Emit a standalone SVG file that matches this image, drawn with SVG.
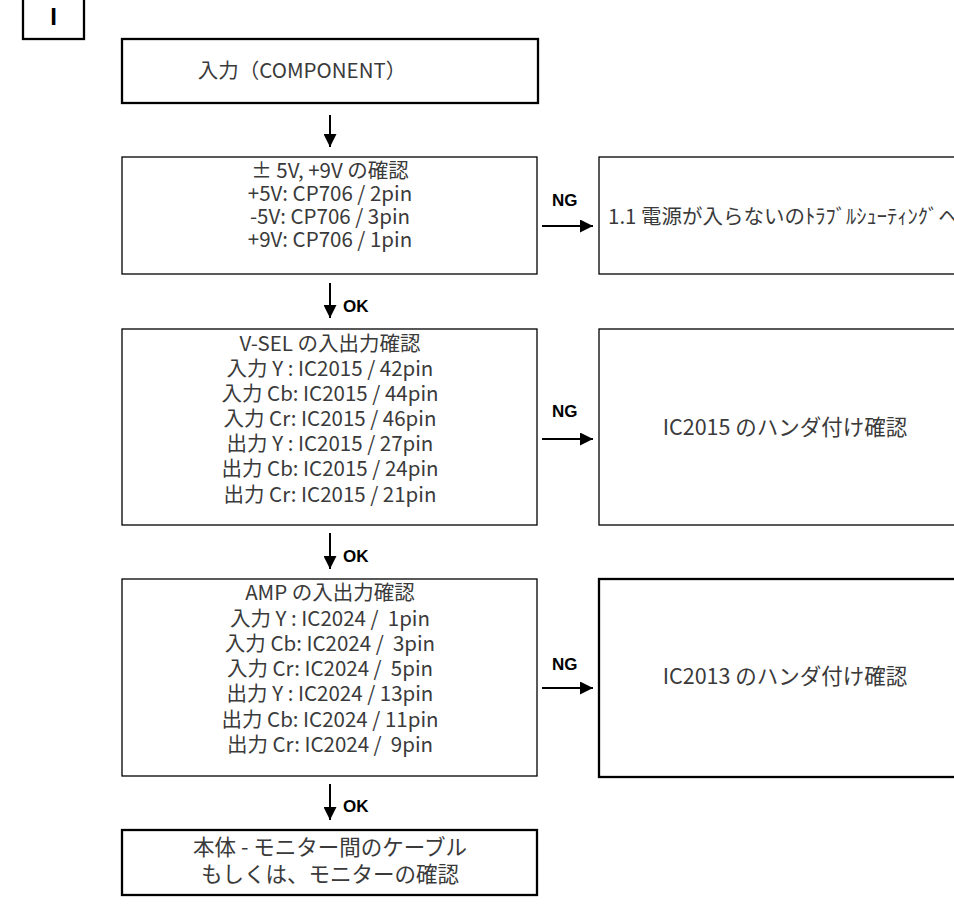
<svg xmlns="http://www.w3.org/2000/svg" width="954" height="906" viewBox="0 0 954 906">
<defs>
<style>
.thin{fill:#fff;stroke:#000;stroke-width:1.3}
.thick{fill:#fff;stroke:#000;stroke-width:2.3}
.t{font-family:"Noto Sans CJK JP","Noto Sans",sans-serif;font-size:20.5px;font-weight:400;fill:#3a3a3a;text-anchor:middle;white-space:pre}
.b{font-size:21.5px}
.lbl{font-family:"Liberation Sans",Arial,sans-serif;font-size:17px;font-weight:bold;fill:#000}
.ln{stroke:#000;stroke-width:2;fill:none}
</style>
<marker id="ah" viewBox="0 0 10 10" refX="10" refY="5" markerWidth="15" markerHeight="13" markerUnits="userSpaceOnUse" orient="auto">
<path d="M0,0 L10,5 L0,10 Z" fill="#000"/>
</marker>
</defs>
<rect width="954" height="906" fill="#fff"/>
<g id="tab">
<rect x="23" y="-3" width="61" height="42" class="thick"/>
<text x="53.5" y="25" font-family="Liberation Sans,Arial,sans-serif" font-size="24" font-weight="bold" text-anchor="middle">I</text>
</g>
<g id="n1">
<rect x="122" y="39" width="416" height="64" class="thick"/>
<text class="t" x="302" y="78">入力（COMPONENT）</text>
</g>
<g id="n2">
<rect x="122" y="157" width="415" height="117" class="thin"/>
<text class="t"><tspan x="330" y="178">± 5V, +9V の確認</tspan><tspan x="330" y="201">+5V: CP706 / 2pin</tspan><tspan x="330" y="224">-5V: CP706 / 3pin</tspan><tspan x="330" y="247">+9V: CP706 / 1pin</tspan></text>
</g>
<g id="r1">
<rect x="599" y="157" width="380" height="117" class="thin"/>
<text class="t" x="608" y="224" style="text-anchor:start">1.1 電源が入らないのﾄﾗﾌﾞﾙｼｭｰﾃｨﾝｸﾞへ</text>
</g>
<g id="n3">
<rect x="122" y="329" width="415" height="196" class="thin"/>
<text class="t"><tspan x="330" y="351">V-SEL の入出力確認</tspan><tspan x="330" y="376">入力 Y : IC2015 / 42pin</tspan><tspan x="330" y="401">入力 Cb: IC2015 / 44pin</tspan><tspan x="330" y="426">入力 Cr: IC2015 / 46pin</tspan><tspan x="330" y="451">出力 Y : IC2015 / 27pin</tspan><tspan x="330" y="476">出力 Cb: IC2015 / 24pin</tspan><tspan x="330" y="502">出力 Cr: IC2015 / 21pin</tspan></text>
</g>
<g id="r2">
<rect x="599" y="329" width="380" height="196" class="thin"/>
<text class="t b" x="785" y="435">IC2015 のハンダ付け確認</text>
</g>
<g id="n4">
<rect x="122" y="579" width="415" height="197" class="thin"/>
<text class="t"><tspan x="330" y="600">AMP の入出力確認</tspan><tspan x="330" y="626">入力 Y : IC2024 /  1pin</tspan><tspan x="330" y="651">入力 Cb: IC2024 /  3pin</tspan><tspan x="330" y="676">入力 Cr: IC2024 /  5pin</tspan><tspan x="330" y="701">出力 Y : IC2024 / 13pin</tspan><tspan x="330" y="727">出力 Cb: IC2024 / 11pin</tspan><tspan x="330" y="752">出力 Cr: IC2024 /  9pin</tspan></text>
</g>
<g id="r3">
<rect x="599" y="579" width="380" height="198" class="thick"/>
<text class="t b" x="785" y="684">IC2013 のハンダ付け確認</text>
</g>
<g id="n5">
<rect x="122" y="830" width="415" height="65" class="thick"/>
<text class="t b"><tspan x="330" y="855">本体 - モニター間のケーブル</tspan><tspan x="330" y="882">もしくは、モニターの確認</tspan></text>
</g>
<g id="connectors">
<line class="ln" x1="330" y1="115" x2="330" y2="147" marker-end="url(#ah)"/>
<line class="ln" x1="330" y1="283" x2="330" y2="318" marker-end="url(#ah)"/>
<line class="ln" x1="330" y1="533" x2="330" y2="569" marker-end="url(#ah)"/>
<line class="ln" x1="330" y1="784" x2="330" y2="820" marker-end="url(#ah)"/>
<line class="ln" x1="542" y1="226" x2="593" y2="226" marker-end="url(#ah)"/>
<line class="ln" x1="542" y1="439" x2="593" y2="439" marker-end="url(#ah)"/>
<line class="ln" x1="542" y1="688" x2="593" y2="688" marker-end="url(#ah)"/>
<text class="lbl" x="343" y="312">OK</text>
<text class="lbl" x="343" y="562">OK</text>
<text class="lbl" x="343" y="812">OK</text>
<text class="lbl" x="552" y="206">NG</text>
<text class="lbl" x="552" y="417">NG</text>
<text class="lbl" x="552" y="670">NG</text>
</g>
</svg>
